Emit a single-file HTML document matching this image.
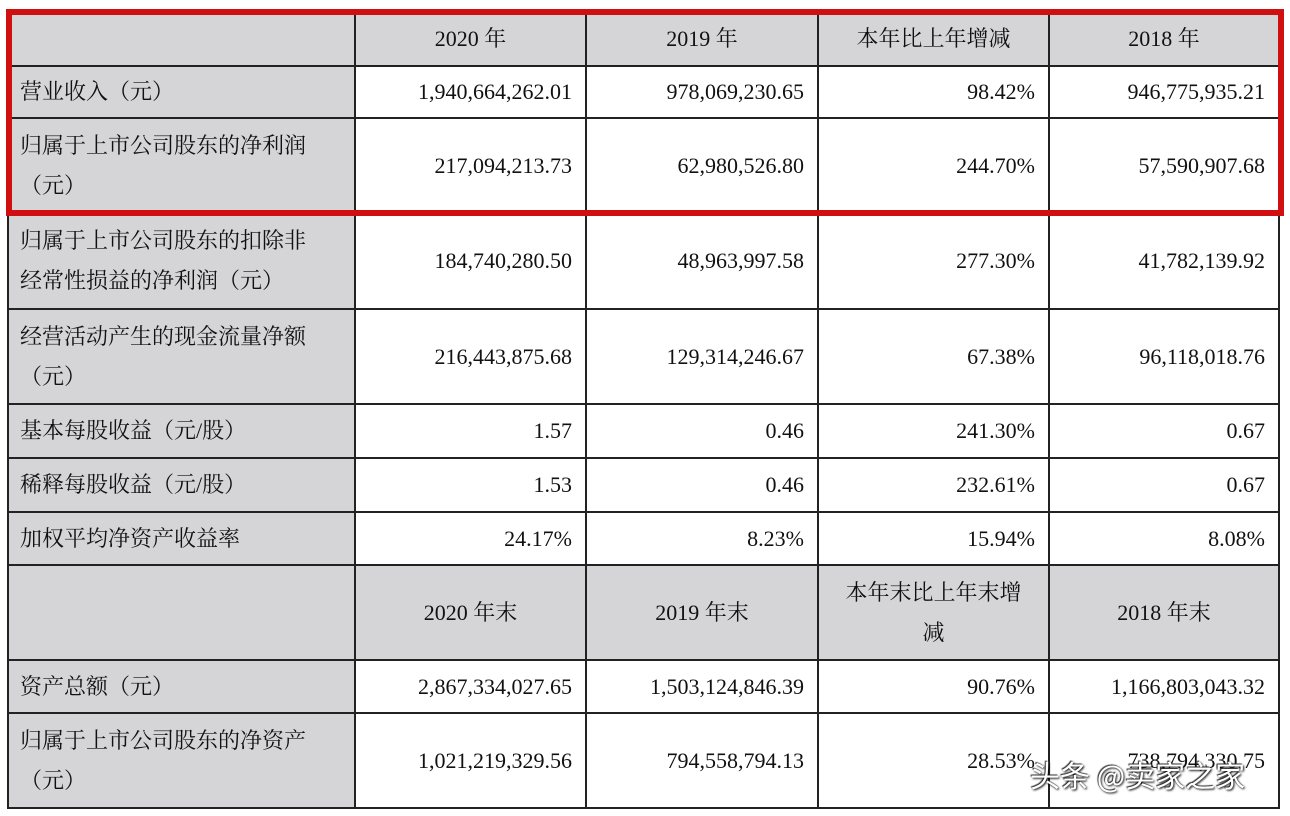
<!DOCTYPE html>
<html><head><meta charset="utf-8"><style>
body{margin:0;background:#fff;width:1290px;height:816px;position:relative;overflow:hidden;font-family:"Liberation Serif","Noto Serif CJK SC",serif;color:#111}
.c{position:absolute;box-sizing:border-box;font-size:22px;display:flex;align-items:center;line-height:40px}
.g{background:#d5d5d7}
.l{padding-left:12px;justify-content:flex-start}
.r{padding-right:14px;justify-content:flex-end}
.h{justify-content:center;text-align:center}
.hl,.vl{position:absolute;background:#222}
.hl{height:2px}.vl{width:2px}
</style></head><body>
<div id="t"></div>
<div style="position:absolute;left:6px;top:9px;width:1278px;height:207px;box-sizing:border-box;border:6px solid #d01010"></div>
<div style="position:absolute;left:1030px;top:752px;font-family:'Noto Sans CJK SC',sans-serif;font-size:30px;color:#fff;text-shadow:1px 1px 2px #000,-1px -1px 1px #333">头条 @卖家之家</div>
<script>
const xs=[8,355,586,818,1049,1279];
const ys=[12,66,118,213,309,404,458,512,565,660,713,808];
const rows=[
["",["2020 年","2019 年","本年比上年增减","2018 年"],1],
["营业收入（元）",["1,940,664,262.01","978,069,230.65","98.42%","946,775,935.21"]],
["归属于上市公司股东的净利润<br>（元）",["217,094,213.73","62,980,526.80","244.70%","57,590,907.68"]],
["归属于上市公司股东的扣除非<br>经常性损益的净利润（元）",["184,740,280.50","48,963,997.58","277.30%","41,782,139.92"]],
["经营活动产生的现金流量净额<br>（元）",["216,443,875.68","129,314,246.67","67.38%","96,118,018.76"]],
["基本每股收益（元/股）",["1.57","0.46","241.30%","0.67"]],
["稀释每股收益（元/股）",["1.53","0.46","232.61%","0.67"]],
["加权平均净资产收益率",["24.17%","8.23%","15.94%","8.08%"]],
["",["2020 年末","2019 年末","本年末比上年末增<br>减","2018 年末"],1],
["资产总额（元）",["2,867,334,027.65","1,503,124,846.39","90.76%","1,166,803,043.32"]],
["归属于上市公司股东的净资产<br>（元）",["1,021,219,329.56","794,558,794.13","28.53%","738,794,330.75"]]
];
const t=document.getElementById('t');
rows.forEach((r,i)=>{
 const y0=ys[i],y1=ys[i+1];
 const a=document.createElement('div');
 
 
 a.className='c g l';
 a.style.cssText=`left:${xs[0]}px;top:${y0}px;width:${xs[1]-xs[0]}px;height:${y1-y0}px`;
 a.innerHTML=r[0];t.appendChild(a);
 r[1].forEach((v,j)=>{
  const d=document.createElement('div');
  
  
  d.className='c '+(r[2]?'g h':'r');
  d.style.cssText=`left:${xs[j+1]}px;top:${y0}px;width:${xs[j+2]-xs[j+1]}px;height:${y1-y0}px`;
  d.innerHTML=v;t.appendChild(d);
 });
});
ys.forEach(y=>{const e=document.createElement('div');
 
 
 e.className='hl';e.style.cssText=`left:${xs[0]}px;top:${y-1}px;width:${xs[5]-xs[0]+1}px`;t.appendChild(e);});
xs.forEach(x=>{const e=document.createElement('div');
 
 
 e.className='vl';e.style.cssText=`left:${x-1}px;top:${ys[0]}px;height:${ys[11]-ys[0]+1}px`;t.appendChild(e);});
</script>
</body></html>
